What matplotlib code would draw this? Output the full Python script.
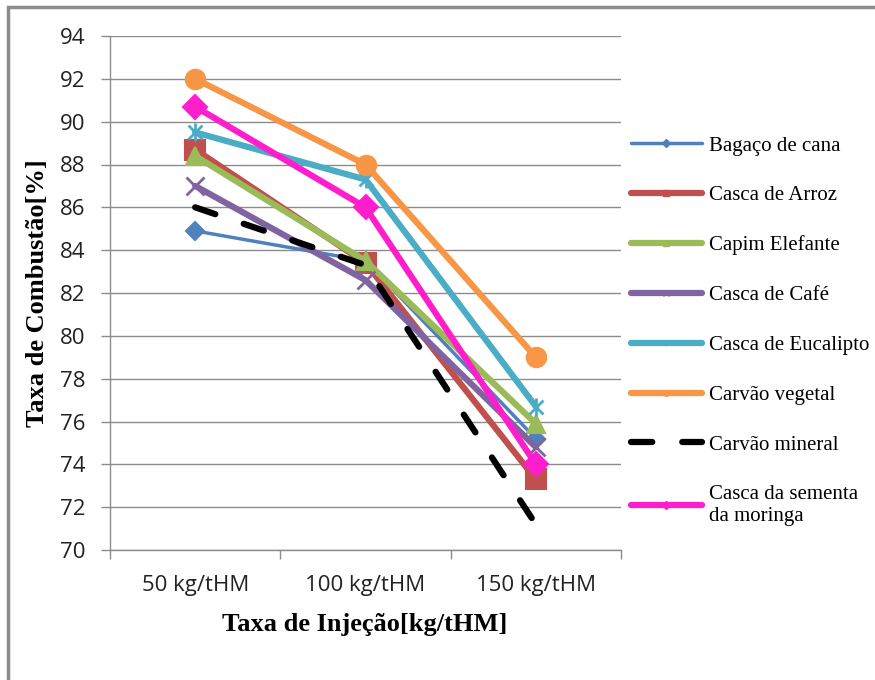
import matplotlib
matplotlib.use("Agg")
import matplotlib.pyplot as plt
from matplotlib.lines import Line2D
from matplotlib.patches import Rectangle
from matplotlib.path import Path

categories = ["50 kg/tHM", "100 kg/tHM", "150 kg/tHM"]
series_names = ["Bagaço de cana", "Casca de Arroz", "Capim Elefante", "Casca de Café",
                "Casca de Eucalipto", "Carvão vegetal", "Carvão mineral",
                "Casca da sementa\nda moringa"]
bagaco = [84.9, 83.5, 75.2]
arroz = [88.7, 83.4, 73.3]
capim = [88.4, 83.5, 75.9]
cafe = [87.0, 82.6, 74.8]
eucalipto = [89.5, 87.3, 76.7]
vegetal = [92.0, 88.0, 79.0]
mineral = [86.0, 83.3, 71.2]
moringa = [90.7, 86.0, 74.0]
yticks = list(range(70, 95, 2))

star = Path([(-1, -1), (1, 1), (-1, 1), (1, -1), (0, -1.3), (0, 1.3)],
            [Path.MOVETO, Path.LINETO, Path.MOVETO, Path.LINETO, Path.MOVETO, Path.LINETO])

values = [bagaco, arroz, capim, cafe, eucalipto, vegetal, mineral, moringa]
colors = ["#4F81BD", "#C0504D", "#9BBB59", "#8064A2", "#4BACC6", "#F79646", "#000000", "#FF1ECC"]
markers = ["D", "s", "^", "x", star, "o", None, "D"]
msizes = [9, 14, 13, 13, 13, 14, 0, 12]
lws = [2.5, 4.5, 4.5, 4.5, 4.5, 4.5, 4.5, 4.5]

fig = plt.figure(figsize=(8.75, 6.8), dpi=100)
fig.patch.set_facecolor("white")
fig.add_artist(Rectangle((8/875, -0.01), 1.0, 1 - 7/680 + 0.01, transform=fig.transFigure,
                         fill=False, edgecolor="#8C8C8C", linewidth=2.5))

ax = fig.add_axes([110/875, 1 - 550/680, (621 - 110)/875, (550 - 36)/680])
x = list(range(len(categories)))
handles = []
for name, vals, c, m, ms, lw in zip(series_names, values, colors, markers, msizes, lws):
    if m is None:
        ax.plot(x, vals, color=c, linewidth=lw, linestyle=(0, (3.4, 4.8)),
                dash_capstyle="round")
        h = Line2D([], [], color=c, linewidth=lw, linestyle=(0, (3.4, 4.8)), dash_capstyle="round")
    else:
        mew = 2.0 if (m is star or m == "x") else 1.5
        ax.plot(x, vals, color=c, linewidth=lw, marker=m, markersize=ms,
                markeredgewidth=mew, markeredgecolor=c, markerfacecolor=c,
                solid_capstyle="round")
        h = Line2D([], [], color=c, linewidth=lw, marker=m, markersize=4,
                   markeredgecolor=c, markerfacecolor=c, solid_capstyle="round")
    handles.append(h)

ax.set_xlim(-0.5, 2.5)
ax.set_ylim(70, 94)
ax.set_yticks(yticks)
ax.set_yticklabels([str(v) for v in yticks], fontfamily="Open Sans", fontsize=16, color="#222222")
ax.set_xticks(x)
ax.set_xticklabels(categories, fontfamily="Open Sans", fontsize=16, color="#222222")
ax.set_xticks([-0.5, 0.5, 1.5, 2.5], minor=True)
ax.tick_params(axis="x", which="major", length=0, pad=18)
ax.tick_params(axis="x", which="minor", length=6.5, color="#8C8C8C", width=1)
ax.tick_params(axis="y", length=6.5, color="#8C8C8C", width=1, pad=11)
ax.yaxis.grid(True, color="#8C8C8C", linewidth=1)
ax.set_axisbelow(True)
for s in ["top", "right"]:
    ax.spines[s].set_visible(False)
for s in ["left", "bottom"]:
    ax.spines[s].set_color("#8C8C8C")
    ax.spines[s].set_linewidth(1)

ax.set_xlabel("Taxa de Injeção[kg/tHM]", fontfamily="Liberation Serif", fontweight="bold",
              fontsize=19, va="center")
ax.set_ylabel("Taxa de Combustão[%]", fontfamily="Liberation Serif", fontweight="bold",
              fontsize=19, va="center")
ax.xaxis.set_label_coords((365 - 110) / 511, -(624 - 550) / 514)
ax.yaxis.set_label_coords(-(110 - 37) / 511, (550 - 293) / 514)

fig.legend(handles, series_names, loc="upper left", bbox_to_anchor=(631/875, 1 - 136/680),
           frameon=False, prop={"family": "Liberation Serif", "size": 15},
           handlelength=3.4, handletextpad=0.35, labelspacing=1.45, borderaxespad=0,
           borderpad=0)

fig.savefig("out.png", dpi=100, facecolor="white")
